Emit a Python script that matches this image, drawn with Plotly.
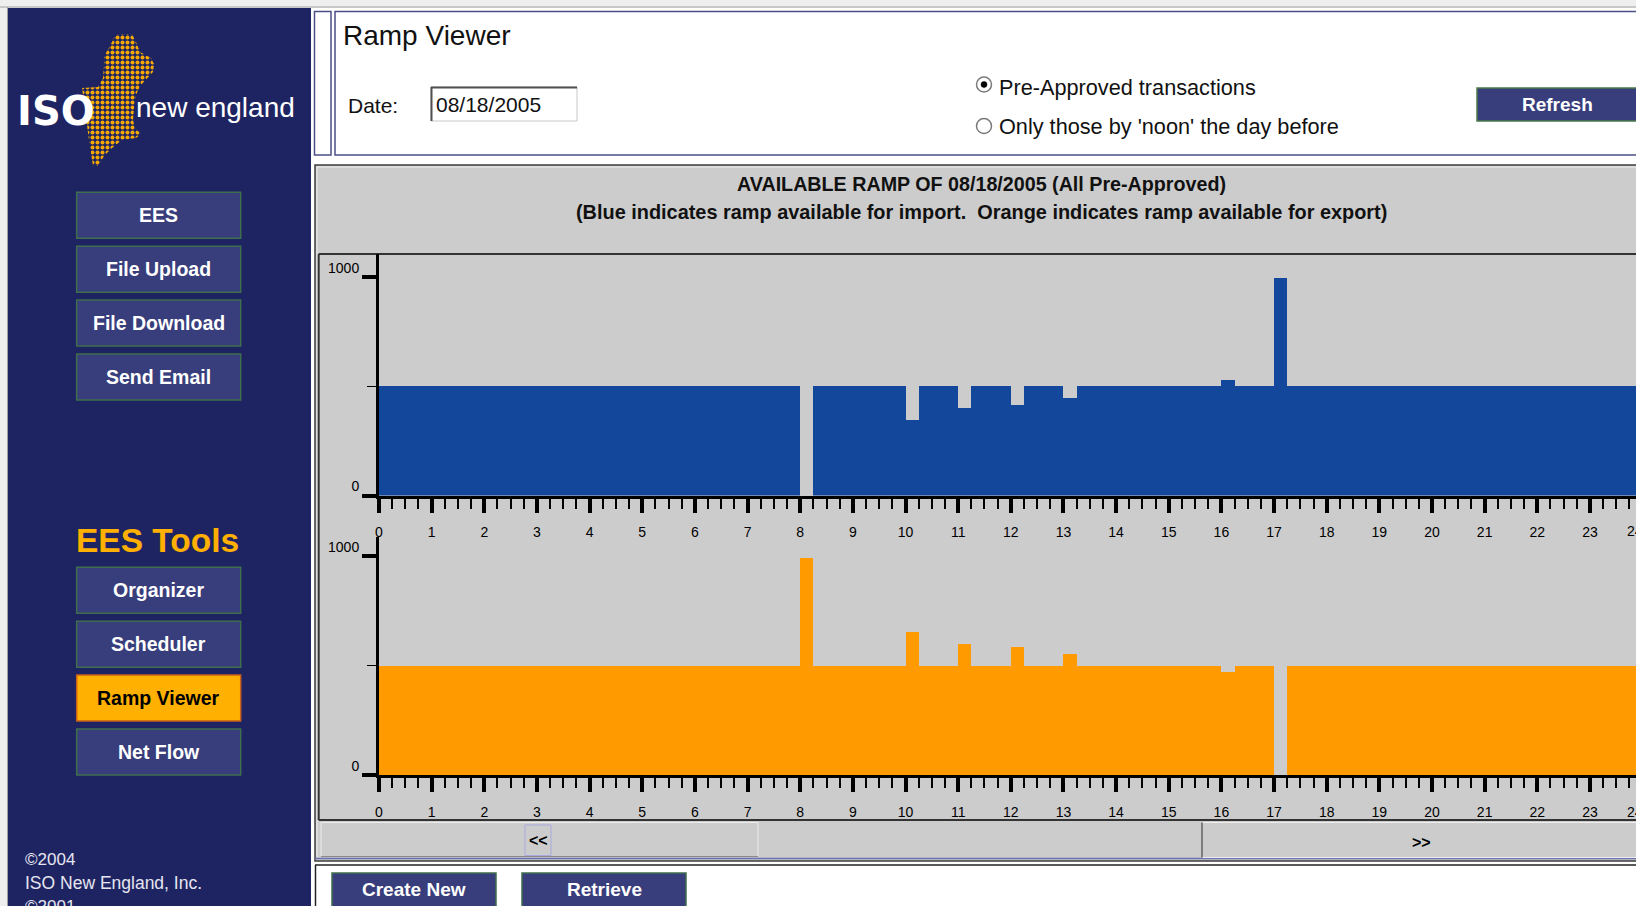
import plotly.graph_objects as go

W, H = 1636, 906

# ---------------- data ----------------
HOUR_TICKS = list(range(24))                      # x tick labels 0..23
QUARTER_START = [h + q / 4 for h in range(24) for q in range(4)]   # 15-minute intervals
Y_TICKS = [0, 1000]
Y_TICK_TEXT = ["0", "1000"]
Y_MINOR = [500]

# Blue: ramp available for import (MW), one value per 15-minute interval
IMPORT_RAMP = [
    500, 500, 500, 500,   # 0
    500, 500, 500, 500,   # 1
    500, 500, 500, 500,   # 2
    500, 500, 500, 500,   # 3
    500, 500, 500, 500,   # 4
    500, 500, 500, 500,   # 5
    500, 500, 500, 500,   # 6
    500, 500, 500, 500,   # 7
    0,   500, 500, 500,   # 8
    500, 500, 500, 500,   # 9
    345, 500, 500, 500,   # 10
    400, 500, 500, 500,   # 11
    415, 500, 500, 500,   # 12
    445, 500, 500, 500,   # 13
    500, 500, 500, 500,   # 14
    500, 500, 500, 500,   # 15
    530, 500, 500, 500,   # 16
    995, 500, 500, 500,   # 17
    500, 500, 500, 500,   # 18
    500, 500, 500, 500,   # 19
    500, 500, 500, 500,   # 20
    500, 500, 500, 500,   # 21
    500, 500, 500, 500,   # 22
    500, 500, 500, 500,   # 23
]
# Orange: ramp available for export (MW)
EXPORT_RAMP = [
    500, 500, 500, 500,   # 0
    500, 500, 500, 500,   # 1
    500, 500, 500, 500,   # 2
    500, 500, 500, 500,   # 3
    500, 500, 500, 500,   # 4
    500, 500, 500, 500,   # 5
    500, 500, 500, 500,   # 6
    500, 500, 500, 500,   # 7
    995, 500, 500, 500,   # 8
    500, 500, 500, 500,   # 9
    655, 500, 500, 500,   # 10
    600, 500, 500, 500,   # 11
    585, 500, 500, 500,   # 12
    555, 500, 500, 500,   # 13
    500, 500, 500, 500,   # 14
    500, 500, 500, 500,   # 15
    470, 500, 500, 500,   # 16
    0,   500, 500, 500,   # 17
    500, 500, 500, 500,   # 18
    500, 500, 500, 500,   # 19
    500, 500, 500, 500,   # 20
    500, 500, 500, 500,   # 21
    500, 500, 500, 500,   # 22
    500, 500, 500, 500,   # 23
]

NAV_BUTTONS = ["EES", "File Upload", "File Download", "Send Email"]
TOOL_BUTTONS = ["Organizer", "Scheduler", "Ramp Viewer", "Net Flow"]
ACTIVE_TOOL = "Ramp Viewer"
CHART_DATE = "08/18/2005"
TITLE_1 = "AVAILABLE RAMP OF 08/18/2005 (All Pre-Approved)"
TITLE_2 = "(Blue indicates ramp available for import.\u00a0 Orange indicates ramp available for export)"

# ---------------- style ----------------
FONT = "Liberation Sans, Arial, sans-serif"
HEAVY = "DejaVu Sans, Liberation Sans, sans-serif"
NAVY = "#1e2462"
BTN = "#383d7b"
BTN_LINE = "#3f6e4c"
AMBER = "#ffb000"
BLUE = "#12479b"
ORANGE = "#ff9a00"
PANEL = "#cccccc"

X0 = 379.0          # pixel of hour 0
HOUR_PX = 52.65
X_END = (W - X0) / HOUR_PX


def fx(x):
    return x / W


def fy(y):
    return 1 - y / H


shapes = []
annotations = []


def rect(x0, y0, x1, y1, fill=None, line=None, lw=0):
    shapes.append(dict(type="rect", xref="paper", yref="paper",
                       x0=fx(x0), x1=fx(x1), y0=fy(y1), y1=fy(y0),
                       fillcolor=fill or "rgba(0,0,0,0)",
                       line=dict(color=line or "rgba(0,0,0,0)", width=lw),
                       layer="below"))


def seg(x0, y0, x1, y1, color, lw):
    shapes.append(dict(type="line", xref="paper", yref="paper",
                       x0=fx(x0), x1=fx(x1), y0=fy(y0), y1=fy(y1),
                       line=dict(color=color, width=lw), layer="below"))


def circ(cx, cy, r, fill, line, lw):
    shapes.append(dict(type="circle", xref="paper", yref="paper",
                       x0=fx(cx - r), x1=fx(cx + r), y0=fy(cy + r), y1=fy(cy - r),
                       fillcolor=fill, line=dict(color=line, width=lw), layer="below"))


def text(x, y, s, size, color="#000000", bold=False, anchor="left", family=FONT):
    if bold:
        s = "<b>" + s + "</b>"
    annotations.append(dict(xref="paper", yref="paper", x=fx(x), y=fy(y), text=s,
                            showarrow=False, xanchor=anchor, yanchor="middle",
                            font=dict(family=family, size=size, color=color)))


# ---------- page frame ----------
seg(0, 7, W, 7, "#a0a0a0", 1)
seg(7.5, 7, 7.5, H, "#a0a0a0", 1)
rect(8, 8, 311, H + 2, NAVY)
rect(311, 8, W + 2, H + 2, "#ffffff")

# ---------- top panel ----------
rect(314.5, 11.5, 331, 155, "#ffffff", "#4b4f85", 1.5)
rect(335, 11.5, W + 6, 155, "#ffffff", "#4b4f85", 1.5)
text(341, 36, "Ramp Viewer", 28, "#111111")
text(346, 105, "Date:", 21, "#111111")
rect(431, 87, 577, 121, "#ffffff", "#c8c8c8", 1)
seg(431, 87.5, 577, 87.5, "#505050", 2)
seg(431.5, 87, 431.5, 121, "#505050", 2)
text(434, 104, CHART_DATE, 21, "#111111")
circ(984, 84.5, 7.5, "#ffffff", "#7a7a7a", 1.5)
circ(984, 84.5, 3, "#000000", "#000000", 0.5)
circ(984, 126, 7.5, "#ffffff", "#7a7a7a", 1.5)
text(997, 87, "Pre-Approved transactions", 21.7, "#111111")
text(997, 127, "Only those by 'noon' the day before", 21.7, "#111111")
rect(1477, 88, W + 6, 121, BTN, "#4a7a4a", 1.5)
text(1557, 104, "Refresh", 19, "#ffffff", bold=True, anchor="center")

# ---------- chart panel ----------
rect(315, 165, W + 6, 861, PANEL, "#3c3c3c", 1.5)
seg(316.5, 167, W, 167, "#eeeeee", 1)
seg(317, 167, 317, 857, "#eeeeee", 1)
seg(315, 858.5, W, 858.5, "#6a70b0", 1.5)
seg(318.7, 254, W, 254, "#333333", 2)
seg(318.7, 254, 318.7, 820, "#333333", 2)
seg(318.7, 820, W, 820, "#333333", 2)
text(981, 184, TITLE_1, 19.7, "#111111", bold=True, anchor="center")
text(981, 212, TITLE_2, 19.9, "#111111", bold=True, anchor="center")

# navigation row
rect(321, 822.5, 758, 856.5, PANEL, "#ececec", 1)
seg(321, 856.5, 758, 856.5, "#8a8a8a", 1)
rect(525, 825, 551, 855.5, None, "#a9a9e0", 1)
text(538, 840, "<<", 16, "#000000", bold=True, anchor="center")
rect(1202, 822.5, W + 6, 857.5, PANEL, "#eeeeee", 1)
seg(1202, 822.5, 1202, 857.5, "#7d7d7d", 2)
text(1421, 842, ">>", 16, "#000000", bold=True, anchor="center")

# "24" label cut by the window edge
text(1635, 531, "24", 14, "#000000", anchor="center")
text(1635, 811.7, "24", 14, "#000000", anchor="center")

# ---------- bottom panel ----------
seg(315, 865, W, 865, "#222222", 1.5)
seg(315.5, 865, 315.5, H, "#222222", 1.5)
rect(332, 873, 496, 915, BTN, BTN_LINE, 1.5)
text(414, 889, "Create New", 19, "#ffffff", bold=True, anchor="center")
rect(522, 873, 686, 915, BTN, BTN_LINE, 1.5)
text(604, 889, "Retrieve", 19, "#ffffff", bold=True, anchor="center")

# ---------- sidebar ----------
text(15, 111, "ISO", 40, "#ffffff", bold=True, family=HEAVY)
text(134, 108, "new england", 28, "#ffffff")
nav_tops = [192.3, 246.3, 300, 354]
for label, top in zip(NAV_BUTTONS, nav_tops):
    rect(76.7, top, 240.7, top + 46, BTN, BTN_LINE, 1.5)
    text(158.7, top + 23, label, 19.5, "#ffffff", bold=True, anchor="center")
text(157.5, 540, "EES Tools", 33.5, AMBER, bold=True, anchor="center")
tool_tops = [567.3, 621.3, 675, 729]
for label, top in zip(TOOL_BUTTONS, tool_tops):
    active = label == ACTIVE_TOOL
    rect(76.7, top, 240.7, top + 46, AMBER if active else BTN,
         "#c8601a" if active else BTN_LINE, 1.5)
    text(158.7, top + 23, label, 19.5, "#000000" if active else "#ffffff",
         bold=True, anchor="center")
text(23, 859, "©2004", 17, "#e6e6f0")
text(23, 883, "ISO New England, Inc.", 17.5, "#e6e6f0")
text(23, 907, "©2001", 17, "#e6e6f0")

# ---------- figure ----------
fig = go.Figure()

# logo map (decorative dotted shape)
LOGO_X = [118, 132, 136, 140, 151, 154, 153, 146, 140, 136, 134, 133, 135, 141, 136, 122,
          112, 104, 98, 93, 91, 89, 87, 85, 83, 82, 98, 103, 104, 104, 110, 114, 118]
LOGO_Y = [34, 34, 42, 52, 58, 64, 72, 80, 86, 95, 108, 120, 128, 134, 138, 140,
          148, 156, 166, 166, 155, 140, 125, 110, 100, 88, 87, 78, 66, 56, 46, 38, 34]
fig.add_trace(go.Scatter(x=LOGO_X, y=LOGO_Y, mode="lines", fill="toself",
                         line=dict(width=0, color="rgba(0,0,0,0)"),
                         fillcolor=NAVY,
                         fillpattern=dict(shape=".", fgcolor="#f5a800", bgcolor=NAVY,
                                          size=5, solidity=0.5, fillmode="replace"),
                         xaxis="x3", yaxis="y3", hoverinfo="skip", showlegend=False))

fig.add_trace(go.Bar(x=QUARTER_START, y=IMPORT_RAMP, width=0.25, offset=0,
                     marker=dict(color=BLUE, line=dict(width=0)),
                     xaxis="x", yaxis="y", showlegend=False, hoverinfo="skip"))
fig.add_trace(go.Bar(x=QUARTER_START, y=EXPORT_RAMP, width=0.25, offset=0,
                     marker=dict(color=ORANGE, line=dict(width=0)),
                     xaxis="x2", yaxis="y2", showlegend=False, hoverinfo="skip"))

xcommon = dict(range=[0, X_END], domain=[fx(X0), 1], tickmode="array",
               tickvals=HOUR_TICKS, ticktext=[str(h) for h in HOUR_TICKS],
               ticks="outside", ticklen=14, tickwidth=4, tickcolor="#000000",
               minor=dict(dtick=0.25, tick0=0, ticks="outside", ticklen=10,
                          tickwidth=2, tickcolor="#000000"),
               showline=True, linewidth=3, linecolor="#000000",
               showgrid=False, zeroline=False, fixedrange=True, automargin=False,
               tickfont=dict(family=FONT, size=14, color="#000000"),
               ticklabelstandoff=8)
ycommon = dict(tickmode="array", tickvals=Y_TICKS, ticktext=Y_TICK_TEXT,
               ticks="outside", ticklen=14, tickwidth=4, tickcolor="#000000",
               minor=dict(tickmode="array", tickvals=Y_MINOR, ticks="outside",
                          ticklen=9, tickwidth=1, tickcolor="#000000"),
               showline=True, linewidth=3, linecolor="#000000",
               showgrid=False, zeroline=False, fixedrange=True, automargin=False,
               tickfont=dict(family=FONT, size=14, color="#000000"),
               ticklabelshift=-9)

PX_PER_UNIT = (495.5 - 276.7) / 1000.0

fig.update_layout(
    width=W, height=H, autosize=False,
    margin=dict(l=0, r=0, t=0, b=0, pad=0, autoexpand=False),
    paper_bgcolor="#eeeeee", plot_bgcolor="rgba(0,0,0,0)",
    bargap=0, barmode="overlay", showlegend=False,
    font=dict(family=FONT),
    xaxis=dict(anchor="y", **xcommon),
    yaxis=dict(anchor="x", domain=[fy(495.5), fy(254)],
               range=[0, (495.5 - 254) / PX_PER_UNIT], **ycommon),
    xaxis2=dict(anchor="y2", **xcommon),
    yaxis2=dict(anchor="x2", domain=[fy(775), fy(536.7)],
                range=[0, (775 - 536.7) / PX_PER_UNIT], **ycommon),
    xaxis3=dict(anchor="y3", domain=[0, 1], range=[0, W], visible=False,
                fixedrange=True, automargin=False),
    yaxis3=dict(anchor="x3", domain=[0, 1], range=[H, 0], visible=False,
                fixedrange=True, automargin=False),
    shapes=shapes,
    annotations=annotations,
)

fig.write_html("out.html", config={"displayModeBar": False},
               post_script="document.body.style.margin='0';document.body.style.overflow='hidden';")
